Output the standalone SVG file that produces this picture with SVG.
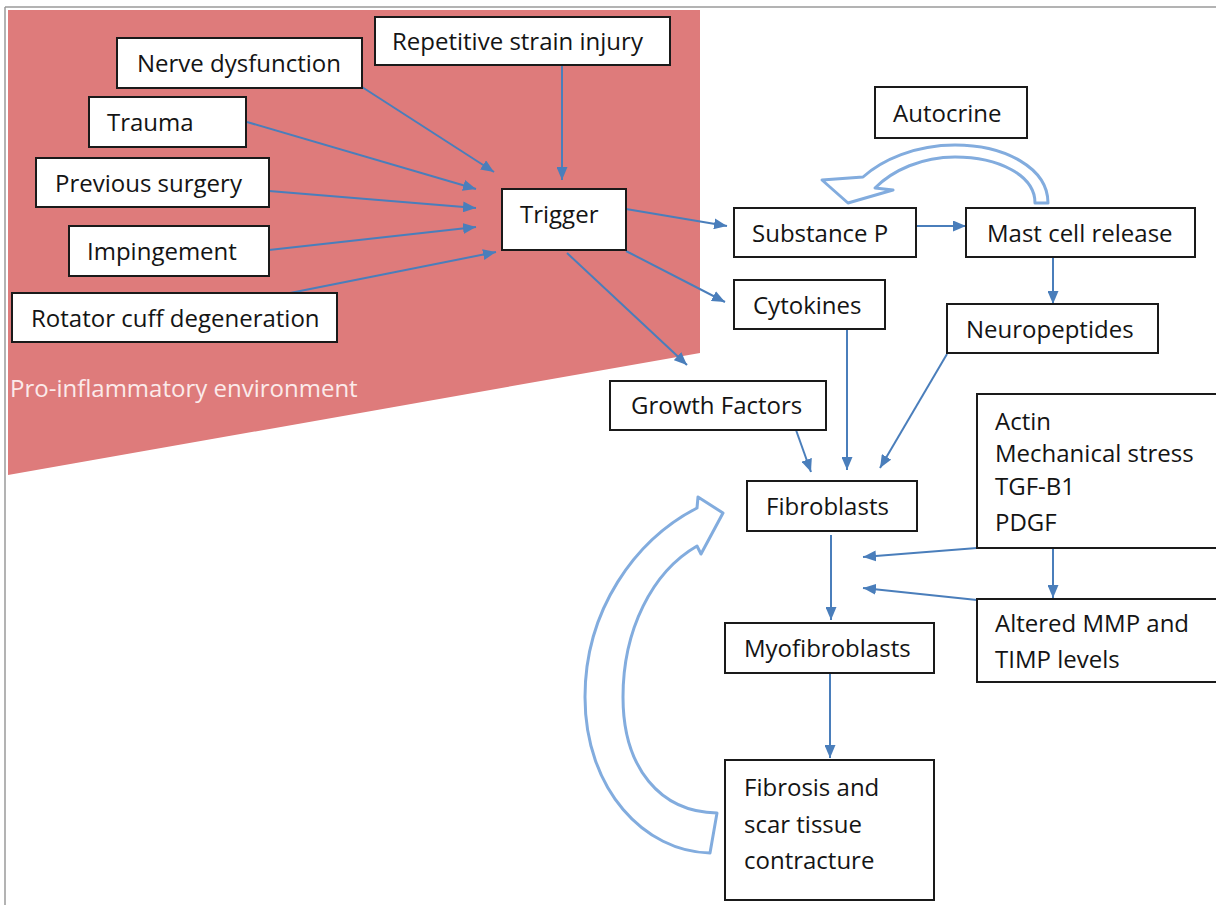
<svg xmlns="http://www.w3.org/2000/svg" width="1216" height="905" viewBox="0 0 1216 905">
<style>
.box{fill:#fff;stroke:#1a1a1a;stroke-width:2}
.t{font-family:"Open Sans","Liberation Sans",sans-serif;font-size:24px;fill:#141414}
.c{stroke:#4A7EBB;stroke-width:2;fill:none;marker-end:url(#ah)}
.hollow{fill:#fff;stroke:#82ACDE;stroke-width:3;stroke-linejoin:round}
</style>
<defs>
<marker id="ah" markerWidth="13" markerHeight="11" refX="13" refY="5.5" orient="auto" markerUnits="userSpaceOnUse">
<path d="M0,0 L13,5.5 L0,11 z" fill="#4A7EBB"/>
</marker>
</defs>
<rect x="0" y="0" width="1216" height="905" fill="#fff"/>
<path d="M5,7 H1216 M5,7 V905" stroke="#9a9a9a" stroke-width="1.5" fill="none"/>
<polygon points="8,10 700,10 700,353 8,475" fill="#DE7B7B"/>
<text class="t" x="10" y="397" style="fill:#FBEAEA">Pro-inflammatory environment</text>

<g id="hollow-arrows">
<path id="autocrine-loop" class="hollow" d="M1048,203 C1048,168 1005,145 955,145 C915,145 882,160 863,177 L822,180 L848,203 L893,190 L875,188 C893,170 922,157 955,157 C998,157 1035,175 1035,203 Z"/>
<path id="feedback-loop" class="hollow" d="M710,853 C645,852 585,790 585,697 C585,610 635,540 697,508 L698,497 L723,513 L701,554 L697,546 C652,572 623,630 623,697 C623,768 660,812 717,813 Z"/>
</g>

<g id="connectors">
<line class="c" x1="562" y1="65" x2="562" y2="180"/>
<line class="c" x1="362" y1="87" x2="494" y2="172"/>
<line class="c" x1="247" y1="122" x2="476" y2="189"/>
<line class="c" x1="269" y1="191" x2="476" y2="208"/>
<line class="c" x1="269" y1="250" x2="476" y2="227"/>
<line class="c" x1="290" y1="293" x2="496" y2="252"/>
<line class="c" x1="626" y1="209" x2="727" y2="226"/>
<line class="c" x1="626" y1="251" x2="725" y2="302"/>
<line class="c" x1="567" y1="253" x2="687" y2="365"/>
<line class="c" x1="916" y1="226" x2="966" y2="226"/>
<line class="c" x1="1053" y1="257" x2="1053" y2="304"/>
<line class="c" x1="847" y1="329" x2="847" y2="470"/>
<line class="c" x1="947" y1="354" x2="880" y2="468"/>
<line class="c" x1="796" y1="430" x2="811" y2="472"/>
<line class="c" x1="831" y1="535" x2="831" y2="620"/>
<line class="c" x1="977" y1="548" x2="863" y2="557"/>
<line class="c" x1="977" y1="600" x2="863" y2="588"/>
<line class="c" x1="1053" y1="548" x2="1053" y2="598"/>
<line class="c" x1="830" y1="673" x2="830" y2="758"/>
</g>

<g id="n-repetitive"><rect class="box" x="375" y="17" width="295" height="48"/><text class="t" x="392" y="50">Repetitive strain injury</text></g>
<g id="n-nerve"><rect class="box" x="117" y="38" width="245" height="50"/><text class="t" x="137" y="72">Nerve dysfunction</text></g>
<g id="n-trauma"><rect class="box" x="89" y="97" width="157" height="50"/><text class="t" x="107" y="131">Trauma</text></g>
<g id="n-surgery"><rect class="box" x="36" y="158" width="233" height="49"/><text class="t" x="55" y="192">Previous surgery</text></g>
<g id="n-impingement"><rect class="box" x="69" y="226" width="200" height="50"/><text class="t" x="87" y="260">Impingement</text></g>
<g id="n-rotator"><rect class="box" x="12" y="293" width="325" height="49"/><text class="t" x="31" y="327">Rotator cuff degeneration</text></g>
<g id="n-trigger"><rect class="box" x="502" y="189" width="124" height="61"/><text class="t" x="520" y="223">Trigger</text></g>
<g id="n-autocrine"><rect class="box" x="875" y="87" width="152" height="51"/><text class="t" x="893" y="122">Autocrine</text></g>
<g id="n-substancep"><rect class="box" x="734" y="208" width="182" height="49"/><text class="t" x="752" y="242">Substance P</text></g>
<g id="n-mast"><rect class="box" x="966" y="208" width="229" height="49"/><text class="t" x="987" y="242">Mast cell release</text></g>
<g id="n-cytokines"><rect class="box" x="734" y="280" width="151" height="49"/><text class="t" x="753" y="314">Cytokines</text></g>
<g id="n-neuropeptides"><rect class="box" x="947" y="304" width="211" height="49"/><text class="t" x="966" y="338">Neuropeptides</text></g>
<g id="n-growth"><rect class="box" x="610" y="381" width="216" height="49"/><text class="t" x="631" y="414">Growth Factors</text></g>
<g id="n-actin"><rect class="box" x="977" y="394" width="250" height="154"/>
<text class="t" x="995" y="430">Actin</text>
<text class="t" x="995" y="462">Mechanical stress</text>
<text class="t" x="995" y="495">TGF-B1</text>
<text class="t" x="995" y="531">PDGF</text></g>
<g id="n-fibroblasts"><rect class="box" x="747" y="481" width="170" height="50"/><text class="t" x="766" y="515">Fibroblasts</text></g>
<g id="n-altered"><rect class="box" x="977" y="599" width="250" height="83"/>
<text class="t" x="995" y="632">Altered MMP and</text>
<text class="t" x="995" y="668">TIMP levels</text></g>
<g id="n-myofibroblasts"><rect class="box" x="725" y="623" width="209" height="50"/><text class="t" x="744" y="657">Myofibroblasts</text></g>
<g id="n-fibrosis"><rect class="box" x="725" y="760" width="209" height="140"/>
<text class="t" x="744" y="796">Fibrosis and</text>
<text class="t" x="744" y="833">scar tissue</text>
<text class="t" x="744" y="869">contracture</text></g>
</svg>
